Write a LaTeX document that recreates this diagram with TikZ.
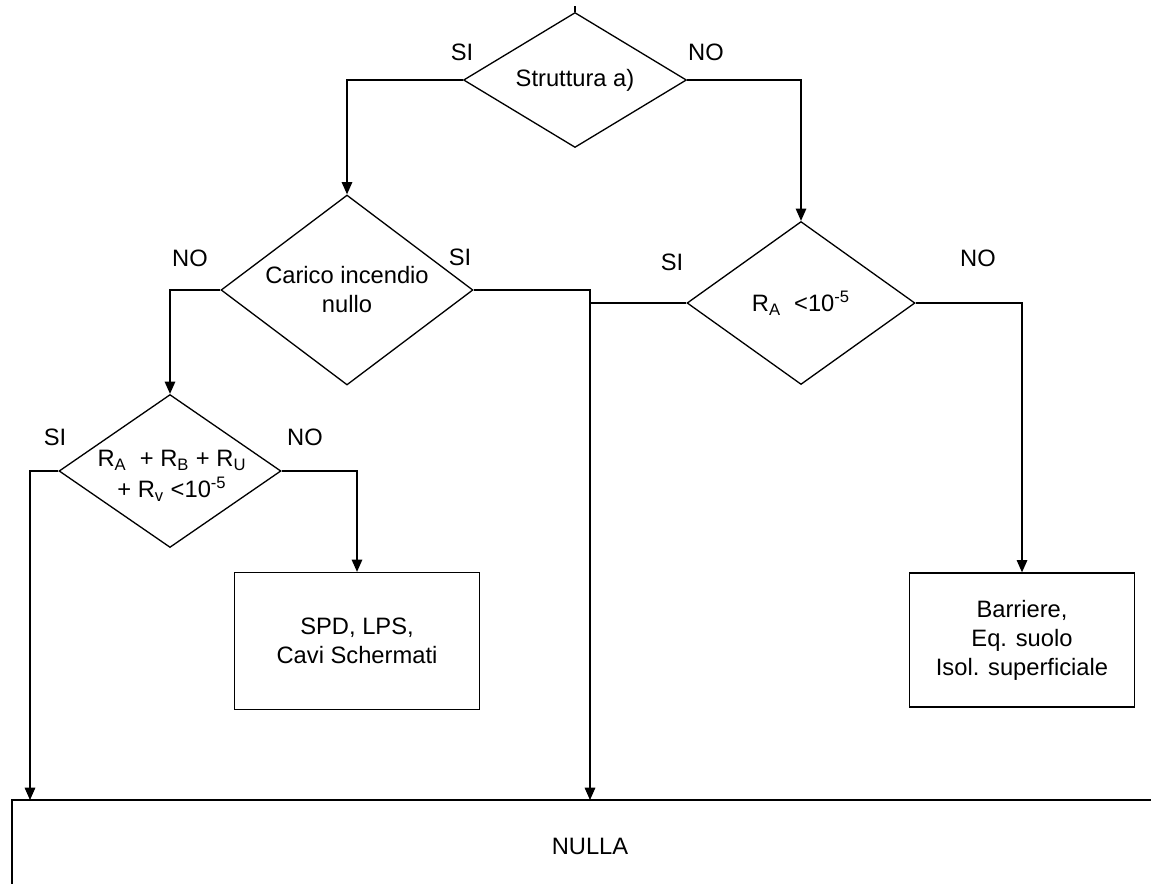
\documentclass[tikz,border=0pt]{standalone}
\usepackage{fontspec}
\setmainfont{Liberation Sans}
\usetikzlibrary{shapes.geometric,arrows.meta}
\begin{document}
\begin{tikzpicture}[x=0.02cm,y=-0.02cm,
  every node/.style={font=\fontsize{13.5}{16.5}\selectfont},
  line/.style={draw=black,line width=0.75pt},
  arr/.style={line,-{Triangle[length=7pt,width=6pt]}},
  choice/.style={diamond,line,inner sep=0pt,align=center},
  action/.style={rectangle,line,inner sep=0pt,align=center},
  lbl/.style={inner sep=0pt}]
\clip (0,0) rectangle (1151,883);
\fill[white] (0,0) rectangle (1151,883);

% decisions
\node[choice,aspect=1.65,minimum width=4.46cm,minimum height=2.7cm] (s) at (575,80) {Struttura a)};
\node[choice,aspect=1.33,minimum width=5.04cm,minimum height=3.8cm] (c) at (347,290)
  {\raisebox{0pt}{Carico incendio}\\nullo};
\node[choice,aspect=1.45,minimum width=4.44cm,minimum height=3.06cm] (r) at (170,471) {};
\node[inner sep=0pt,align=center] (rt) at (172,476)
  {R\textsubscript{A}\ \ + R\textsubscript{B} + R\textsubscript{U}\\[1pt]+ R\textsubscript{v} <10\textsuperscript{-5}};
\node[choice,aspect=1.4,minimum width=4.56cm,minimum height=3.26cm] (ra) at (801,303)
  {R\textsubscript{A}\ \ <10\textsuperscript{-5}};

% actions
\node[action,minimum width=4.9cm,minimum height=2.74cm] (spd) at (357,641) {SPD, LPS,\\Cavi Schermati};
\node[action,minimum width=4.5cm,minimum height=2.68cm] (bar) at (1022,640) {Barriere,\\Eq. suolo\\Isol. superficiale};
\node[action,minimum width=23.12cm,minimum height=1.84cm] (nul) at (590,846) {NULLA};

% entry points on the NULLA box and the incoming stub
\coordinate (in) at (575,6);
\coordinate (nl) at (30,800);
\coordinate (nm) at (590,800);

% connectors
\draw[line] (in) -- (s.north);
\draw[arr] (s.west) -| (c.north);
\draw[arr] (s.east) -| (ra.north);
\draw[arr] (c.west) -| (r.north);
\draw[arr] (c.east) -| (nm);
\draw[line] (ra.west) -- (ra.west -| nm);
\draw[arr] (ra.east) -| (bar.north);
\draw[arr] (r.west) -| (nl);
\draw[arr] (r.east) -| (spd.north);

% branch labels
\node[lbl] (l1) at (462,52) {SI};
\node[lbl] (l2) at (706,52) {NO};
\node[lbl] (l3) at (190,258) {NO};
\node[lbl] (l4) at (460,257) {SI};
\node[lbl] (l5) at (672,262) {SI};
\node[lbl] (l6) at (978,258) {NO};
\node[lbl] (l7) at (55,437) {SI};
\node[lbl] (l8) at (305,437) {NO};
\end{tikzpicture}
\end{document}
